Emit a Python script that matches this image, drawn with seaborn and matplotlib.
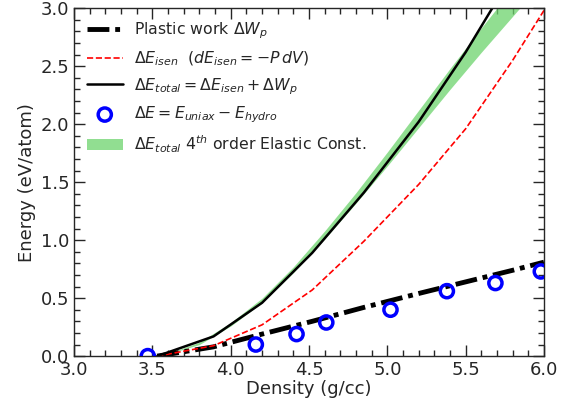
#!/usr/bin/env python3
"""
Energy vs density: plastic work, isentropic and total energy
"""

import matplotlib
matplotlib.use('Agg')
import matplotlib.pyplot as plt
from matplotlib.ticker import MultipleLocator
import seaborn as sns
import pandas as pd

# density grid for the computed curves (g/cc)
density = [3.53, 3.89, 4.20, 4.52, 4.85, 5.20, 5.50, 5.80, 6.00]
plastic_work = [0.00, 0.08, 0.19, 0.30, 0.42, 0.54, 0.64, 0.74, 0.81]
e_isen = [0.00, 0.09, 0.27, 0.57, 0.99, 1.48, 1.96, 2.55, 2.98]
e_total = [0.00, 0.17, 0.46, 0.89, 1.41, 2.02, 2.62, 3.29, 3.79]

# direct uniaxial - hydrostatic energy differences
pts_density = [3.47, 4.16, 4.42, 4.61, 5.02, 5.38, 5.69, 5.98]
pts_energy = [0.00, 0.10, 0.19, 0.29, 0.40, 0.56, 0.63, 0.73]

# 4th order elastic constant band
band_density = [3.55, 3.80, 4.00, 4.20, 4.40, 4.60, 4.80, 5.00, 5.20, 5.40, 5.60, 5.80, 6.00]
band_low = [0.00, 0.10, 0.26, 0.46, 0.72, 1.01, 1.32, 1.64, 1.97, 2.30, 2.62, 2.93, 3.24]
band_high = [0.00, 0.12, 0.29, 0.50, 0.77, 1.08, 1.41, 1.76, 2.12, 2.48, 2.83, 3.17, 3.50]


def plot_energy():
    sns.set_style('ticks')
    plt.rcParams['font.family'] = ['DejaVu Sans']

    curves = pd.DataFrame({'density': density, 'plastic': plastic_work,
                           'isen': e_isen, 'total': e_total})
    points = pd.DataFrame({'density': pts_density, 'energy': pts_energy})

    fig, ax = plt.subplots(figsize=(5.75, 4.07), dpi=100)
    fig.subplots_adjust(left=0.129, right=0.946, bottom=0.125, top=0.980)

    sns.lineplot(data=curves, x='density', y='plastic', ax=ax, color='black',
                 lw=3.5, linestyle=(0, (4.5, 1.2, 1.0, 1.2)),
                 label=r'Plastic work $\Delta W_p$')
    sns.lineplot(data=curves, x='density', y='isen', ax=ax, color='red',
                 lw=1.2, linestyle='--',
                 label=r'$\Delta E_{isen}$  $(dE_{isen}=-P\,dV)$')
    sns.lineplot(data=curves, x='density', y='total', ax=ax, color='black',
                 lw=1.8, label=r'$\Delta E_{total}=\Delta E_{isen}+\Delta W_p$')
    sns.scatterplot(data=points, x='density', y='energy', ax=ax, marker='o',
                    s=90, facecolors='none', edgecolor='blue', linewidth=2.5,
                    label=r'$\Delta E=E_{uniax}-E_{hydro}$', zorder=5,
                    clip_on=True)
    ax.fill_between(band_density, band_low, band_high, color='#6dd36d',
                    alpha=0.75, lw=0,
                    label=r'$\Delta E_{total}$ $4^{th}$ order Elastic Const.')

    ax.set_xlim(3.0, 6.0)
    ax.set_ylim(0.0, 3.0)
    ax.xaxis.set_major_locator(MultipleLocator(0.5))
    ax.xaxis.set_minor_locator(MultipleLocator(0.1))
    ax.yaxis.set_major_locator(MultipleLocator(0.5))
    ax.yaxis.set_minor_locator(MultipleLocator(0.1))
    ax.tick_params(which='both', direction='in', top=True, right=True,
                   labelsize=13)
    ax.tick_params(which='major', length=8, width=1)
    ax.tick_params(which='minor', length=4, width=1)
    for spine in ax.spines.values():
        spine.set_linewidth(1)

    ax.set_xlabel('Density (g/cc)', fontsize=13, labelpad=1)
    ax.set_ylabel('Energy (eV/atom)', fontsize=13, labelpad=3)

    ax.legend(loc='upper left', frameon=False, fontsize=11.3,
              handlelength=2.3, handletextpad=0.7, labelspacing=0.52,
              borderaxespad=0.4, scatterpoints=1)

    fig.savefig('out.png', dpi=100)
    return fig


if __name__ == "__main__":
    plot_energy()
